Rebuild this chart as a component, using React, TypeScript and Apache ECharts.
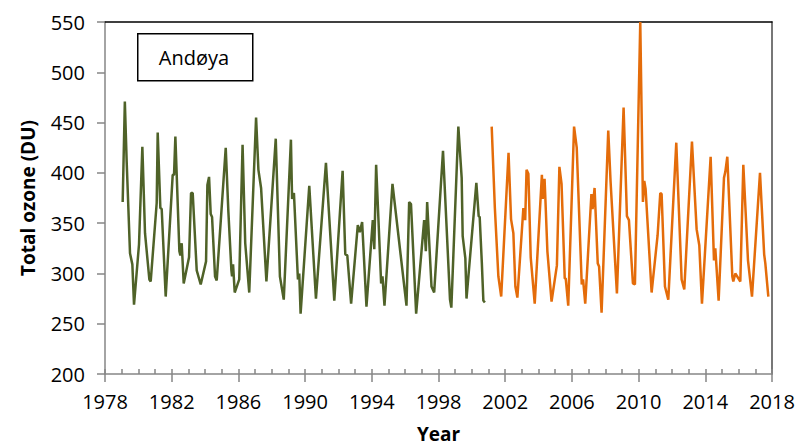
import React, { useEffect, useRef } from "react";
import * as echarts from "echarts";

// Green series (1979–2000), decimal year and total ozone (DU)
const greenYears = [
  1979.06, 1979.19, 1979.3, 1979.5, 1979.64, 1979.74, 1980.04, 1980.24, 1980.4, 1980.66, 1980.74,
  1981.1, 1981.16, 1981.32, 1981.4, 1981.64, 1982.06, 1982.14, 1982.22, 1982.46, 1982.52, 1982.6,
  1982.72, 1983.04, 1983.16, 1983.26, 1983.5, 1983.74, 1984.06, 1984.14, 1984.24, 1984.34, 1984.42,
  1984.6, 1984.7, 1985.24, 1985.4, 1985.58, 1985.62, 1985.68, 1985.78, 1986.05, 1986.25, 1986.41,
  1986.65, 1987.06, 1987.2, 1987.36, 1987.68, 1988.24, 1988.49, 1988.72, 1989.15, 1989.22, 1989.33,
  1989.57, 1989.65, 1989.73, 1990.25, 1990.65, 1991.25, 1991.75, 1992.25, 1992.41, 1992.53, 1992.76,
  1993.16, 1993.28, 1993.42, 1993.68, 1994.06, 1994.15, 1994.26, 1994.56, 1994.64, 1994.76, 1995.24,
  1996.08, 1996.24, 1996.35, 1996.66, 1997.14, 1997.24, 1997.32, 1997.58, 1997.74, 1998.27, 1998.69,
  1998.77, 1999.19, 1999.39, 1999.45, 1999.61, 1999.68, 2000.27, 2000.41, 2000.47, 2000.6, 2000.69,
  2000.78,
];
const greenValues = [
  371, 471, 411, 320, 309, 269, 329, 426, 340, 294, 292,
  370, 440, 365, 364, 277, 398, 398, 436, 322, 318, 330,
  290, 316, 380, 380, 303, 289, 312, 388, 396, 359, 356,
  297, 293, 425, 361, 303, 297, 309, 281, 294, 428, 330,
  281, 455, 403, 385, 292, 434, 297, 274, 433, 374, 380,
  294, 300, 260, 387, 275, 410, 273, 402, 319, 318, 270,
  348, 341, 351, 267, 353, 324, 408, 290, 297, 268, 389,
  268, 371, 369, 260, 353, 322, 371, 287, 281, 422, 274,
  266, 446, 395, 337, 315, 275, 390, 357, 356, 310, 273,
  271,
];

// Orange series (2001–2017)
const orangeYears = [
  2001.19, 2001.38, 2001.59, 2001.76, 2002.2, 2002.35, 2002.49, 2002.61, 2002.73, 2003.09, 2003.2,
  2003.28, 2003.39, 2003.53, 2003.77, 2004.2, 2004.25, 2004.36, 2004.41, 2004.53, 2004.78, 2005.1,
  2005.25, 2005.38, 2005.57, 2005.63, 2005.78, 2006.13, 2006.29, 2006.59, 2006.67, 2006.8, 2007.17,
  2007.24, 2007.36, 2007.55, 2007.63, 2007.78, 2008.18, 2008.32, 2008.7, 2009.1, 2009.3, 2009.42,
  2009.66, 2009.78, 2010.1, 2010.26, 2010.34, 2010.42, 2010.78, 2011.14, 2011.3, 2011.38, 2011.58,
  2011.78, 2012.26, 2012.58, 2012.74, 2013.2, 2013.48, 2013.64, 2013.8, 2014.32, 2014.52, 2014.6,
  2014.8, 2015.12, 2015.2, 2015.32, 2015.62, 2015.68, 2015.8, 2016.1, 2016.28, 2016.56, 2016.8,
  2017.28, 2017.53, 2017.6, 2017.78,
];
const orangeValues = [
  446, 365, 297, 277, 420, 354, 340, 287, 276, 365, 353,
  403, 399, 316, 270, 398, 374, 394, 374, 322, 272, 308,
  406, 389, 295, 295, 268, 446, 425, 289, 294, 270, 379,
  364, 385, 310, 307, 261, 442, 391, 280, 465, 357, 353,
  290, 289, 550, 371, 392, 384, 281, 338, 380, 379, 287,
  274, 430, 294, 284, 431, 344, 328, 270, 416, 313, 325,
  273, 395, 401, 416, 297, 292, 300, 292, 408, 313, 277,
  400, 319, 310, 277,
];

const yTicksMin = 200;
const yTicksMax = 550;
const xMin = 1978;
const xMax = 2018;

const FONT = "'Open Sans', 'Noto Sans', sans-serif";

function zip(xs: number[], ys: number[]) {
  return xs.map((x, i) => [x, ys[i]]);
}

export default function App() {
  const ref = useRef<HTMLDivElement>(null);

  useEffect(() => {
    document.body.style.margin = "0";
    const chart = echarts.init(ref.current!, null, { renderer: "svg" });
    const gray = "#868686";
    chart.setOption({
      animation: false,
      backgroundColor: "#fff",
      textStyle: { fontFamily: FONT },
      grid: { left: 105, right: 26, top: 22, bottom: 69, containLabel: false },
      xAxis: [
        {
          type: "value",
          position: "bottom",
          min: xMin,
          max: xMax,
          interval: 4,
          name: "Year",
          nameLocation: "middle",
          nameGap: 50,
          nameTextStyle: { fontFamily: FONT, fontSize: 19, fontWeight: "bold", color: "#000" },
          axisLine: { show: true, lineStyle: { color: gray, width: 1.5 } },
          axisTick: { show: true, inside: false, length: 8, lineStyle: { color: gray, width: 1.5 } },
          axisLabel: {
            fontFamily: FONT,
            fontSize: 20,
            color: "#000",
            margin: 17,
            formatter: (v: number) => String(v),
          },
          splitLine: { show: false },
        },
        {
          type: "value",
          position: "bottom",
          min: xMin,
          max: xMax,
          interval: 1,
          axisLine: { show: false },
          axisTick: { show: true, inside: true, length: 5, lineStyle: { color: gray, width: 1.5 } },
          axisLabel: { show: false },
          splitLine: { show: false },
        },
        {
          type: "value",
          position: "top",
          min: xMin,
          max: xMax,
          axisLine: { show: true, lineStyle: { color: "#000", width: 1.5 } },
          axisTick: { show: false },
          axisLabel: { show: false },
          splitLine: { show: false },
        },
      ],
      yAxis: [
        {
          type: "value",
          position: "left",
          min: yTicksMin,
          max: yTicksMax,
          interval: 50,
          name: "Total ozone (DU)",
          nameLocation: "middle",
          nameGap: 68,
          nameTextStyle: { fontFamily: FONT, fontSize: 19, fontWeight: "bold", color: "#000" },
          axisLine: { show: true, lineStyle: { color: gray, width: 1.5 } },
          axisTick: { show: true, inside: false, length: 8, lineStyle: { color: gray, width: 1.5 } },
          axisLabel: { fontFamily: FONT, fontSize: 20, color: "#000", margin: 20 },
          splitLine: { show: false },
        },
        {
          type: "value",
          position: "right",
          min: yTicksMin,
          max: yTicksMax,
          axisLine: { show: true, lineStyle: { color: "#4a4a4a", width: 1.5 } },
          axisTick: { show: false },
          axisLabel: { show: false },
          splitLine: { show: false },
        },
      ],
      series: [
        {
          type: "line",
          name: "Andøya 1979–2000",
          xAxisIndex: 0,
          yAxisIndex: 0,
          data: zip(greenYears, greenValues),
          showSymbol: false,
          lineStyle: { color: "#4F6228", width: 2.5 },
          itemStyle: { color: "#4F6228" },
        },
        {
          type: "line",
          name: "Andøya 2001–2017",
          xAxisIndex: 0,
          yAxisIndex: 0,
          data: zip(orangeYears, orangeValues),
          showSymbol: false,
          lineStyle: { color: "#E46C0A", width: 2.5 },
          itemStyle: { color: "#E46C0A" },
        },
      ],
      graphic: [
        {
          type: "rect",
          left: 137,
          top: 33,
          shape: { width: 115, height: 47 },
          style: { fill: "#fff", stroke: "#000", lineWidth: 1.5 },
          z: 10,
        },
        {
          type: "text",
          x: 194,
          y: 57,
          style: {
            text: "Andøya",
            fontFamily: FONT,
            fontSize: 20,
            fill: "#000",
            align: "center",
            verticalAlign: "middle",
          },
          z: 11,
        },
      ],
    });
    return () => chart.dispose();
  }, []);

  return (
    <div
      ref={ref}
      style={{ position: "absolute", left: 0, top: 0, width: 798, height: 448 }}
    />
  );
}
